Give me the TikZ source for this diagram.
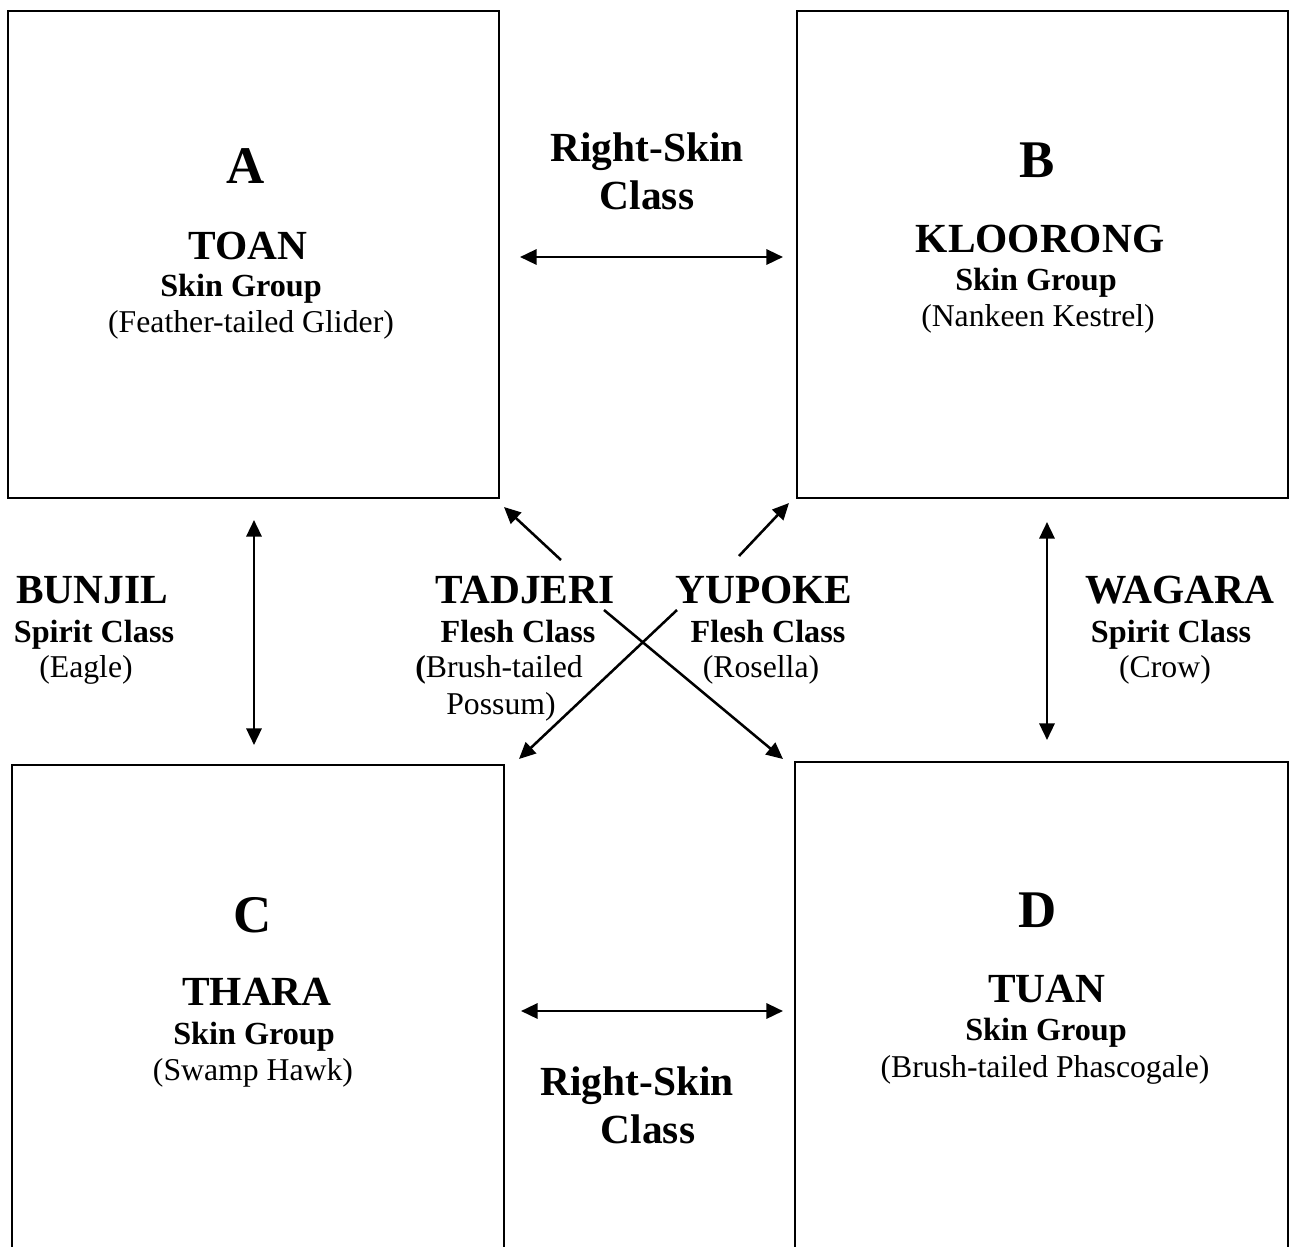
\documentclass[tikz,border=0pt]{standalone}
\usepackage{fontspec}
\setmainfont{Liberation Serif}
\usetikzlibrary{arrows.meta}

\begin{document}
\begin{tikzpicture}[x=0.4348pt,y=0.4348pt,yscale=-1,xscale=1,
  letter/.style={font=\fontsize{23}{26}\selectfont\bfseries,anchor=base,inner sep=0pt},
  clan/.style={font=\fontsize{18}{21}\selectfont\bfseries,anchor=base,inner sep=0pt},
  group/.style={font=\fontsize{14}{16}\selectfont\bfseries,anchor=base,inner sep=0pt},
  totem/.style={font=\fontsize{13.8}{16}\selectfont,anchor=base,inner sep=0pt},
  link/.style={line width=1.1pt,{Triangle[length=7.2pt,width=6.6pt]}-{Triangle[length=7.2pt,width=6.6pt]}},
  oneway/.style={line width=1.1pt,-{Triangle[length=7.2pt,width=6.6pt]}}]
\useasboundingbox (0,0) rectangle (1291,1247);

%Shape: Rectangle [A]
\draw [line width=0.8pt] (8,11) rectangle (499,498) ;
%Shape: Rectangle [B]
\draw [line width=0.8pt] (797,11) rectangle (1288,498) ;
%Shape: Rectangle [C] (runs off the page)
\draw [line width=0.8pt] (12,1260) -- (12,765) -- (504,765) -- (504,1260) ;
%Shape: Rectangle [D] (runs off the page)
\draw [line width=0.8pt] (795,1260) -- (795,762) -- (1288,762) -- (1288,1260) ;

%Arrow ends
\coordinate (ab1) at (520,257) ; \coordinate (ab2) at (783,257) ;
\coordinate (cd1) at (521,1011) ; \coordinate (cd2) at (783,1011) ;
\coordinate (ac1) at (254,520) ; \coordinate (ac2) at (254,745) ;
\coordinate (bd1) at (1047,522) ; \coordinate (bd2) at (1047,740) ;
\coordinate (tad0) at (561,560) ; \coordinate (tad1) at (504,507) ;
\coordinate (tad2) at (604,610) ; \coordinate (tad3) at (783,759) ;
\coordinate (yup0) at (739,556) ; \coordinate (yup1) at (789,503) ;
\coordinate (yup2) at (677,610) ; \coordinate (yup3) at (519,759) ;

%Straight Lines
\draw [link] (ab1) -- (ab2) ;
\draw [link] (cd1) -- (cd2) ;
\draw [link] (ac1) -- (ac2) ;
\draw [link] (bd1) -- (bd2) ;
\draw [oneway] (tad0) -- (tad1) ;
\draw [oneway] (tad2) -- (tad3) ;
\draw [oneway] (yup0) -- (yup1) ;
\draw [oneway] (yup2) -- (yup3) ;

% Text Node [A]
\node [letter] (a) at (246,183) {A};
\node [clan] (toan) at (248,259) {TOAN};
\node [group] (toang) at (241,296) {Skin Group};
\node [totem] (toant) at (251,332) {(Feather-tailed Glider)};
% Text Node [B]
\node [letter] (b) at (1037,177) {B};
\node [clan] (kloorong) at (1040,252) {KLOORONG};
\node [group] (kloorongg) at (1036,290) {Skin Group};
\node [totem] (kloorongt) at (1038,326) {(Nankeen Kestrel)};
% Text Node [C]
\node [letter] (c) at (253,932) {C};
\node [clan] (thara) at (257,1005) {THARA};
\node [group] (tharag) at (254,1044) {Skin Group};
\node [totem] (tharat) at (253,1080) {(Swamp Hawk)};
% Text Node [D]
\node [letter] (d) at (1038,927) {D};
\node [clan] (tuan) at (1047,1002) {TUAN};
\node [group] (tuang) at (1046,1040) {Skin Group};
\node [totem] (tuant) at (1045,1077) {(Brush-tailed Phascogale)};

% Text Node [right-skin, top]
\node [clan] (rs1) at (647,161) {Right-Skin};
\node [clan] (rs1b) at (647,209) {Class};
% Text Node [right-skin, bottom]
\node [clan] (rs2) at (637,1095) {Right-Skin};
\node [clan] (rs2b) at (648,1143) {Class};

% Text Node [bunjil]
\node [clan] (bunjil) at (92,603) {BUNJIL};
\node [group] (bunjilg) at (94,642) {Spirit Class};
\node [totem] (bunjilt) at (86,677) {(Eagle)};
% Text Node [wagara]
\node [clan] (wagara) at (1180,603) {WAGARA};
\node [group] (wagarag) at (1171,642) {Spirit Class};
\node [totem] (wagarat) at (1165,677) {(Crow)};
% Text Node [tadjeri]
\node [clan] (tadjeri) at (525,603) {TADJERI};
\node [group] (tadjerig) at (518,642) {Flesh Class};
\node [totem] (tadjerit) at (499,677) {\textbf{(}Brush-tailed};
\node [totem] (tadjerit2) at (501,714) {Possum)};
% Text Node [yupoke]
\node [clan] (yupoke) at (764,603) {YUPOKE};
\node [group] (yupokeg) at (768,642) {Flesh Class};
\node [totem] (yupoket) at (761,677) {(Rosella)};

\end{tikzpicture}
\end{document}
